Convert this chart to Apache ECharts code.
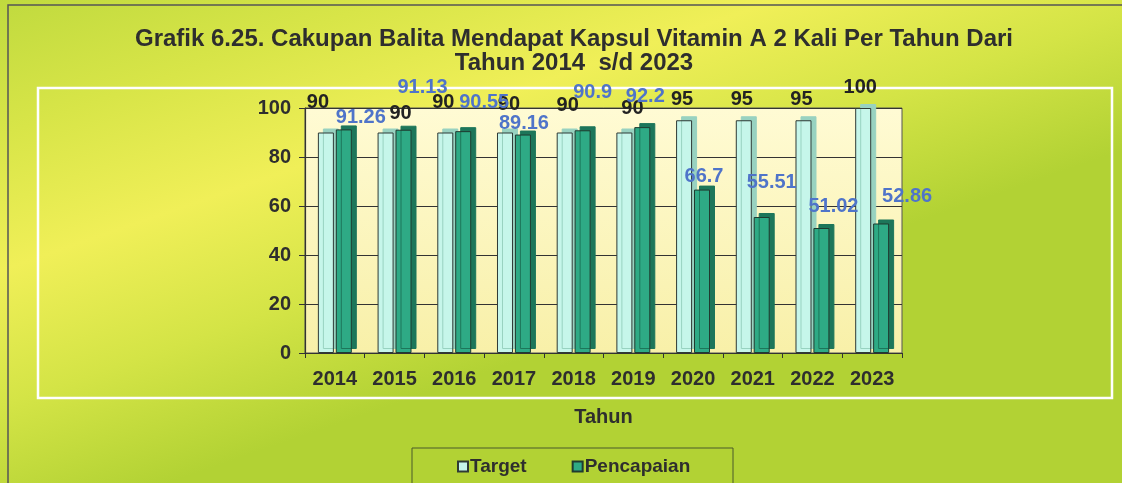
<!DOCTYPE html>
<html><head><meta charset="utf-8">
<script src="https://cdn.jsdelivr.net/npm/echarts@6/dist/echarts.min.js"></script>
<style>html,body{margin:0;padding:0;}#c{width:1122px;height:483px;}</style>
</head><body><div id="c"></div>
<script>
const years = ['2014','2015','2016','2017','2018','2019','2020','2021','2022','2023'];
const target = [90, 90, 90, 90, 90, 90, 95, 95, 95, 100];
const pencapaian = [91.26, 91.13, 90.55, 89.16, 90.9, 92.2, 66.7, 55.51, 51.02, 52.86];
const yTicks = [0, 20, 40, 60, 80, 100];
// label placement nudges (pixels), copying the reference's scattered labels
const targetLabelShift = [[-8,-20],[15,-9],[-2,-20],[4,-18],[3,-17],[8,-14],[-2,-11],[-2,-11],[-2,-11],[-3,-11]];
const pencapLabelShift = [[17,-2],[19,-32],[21,-19],[1,-1],[10,-28],[3,-21],[2,-3],[10,-25],[12,-12],[26,-17]];

const FONT = '"Liberation Sans", Arial, sans-serif';
const chart = echarts.init(document.getElementById('c'));

function mk(vals, shifts) {
  return vals.map((v, i) => ({ value: v, label: { offset: shifts[i] } }));
}

chart.setOption({
  animation: false,
  backgroundColor: {
    type: 'linear', x: 0, y: 0, x2: 0.15, y2: 1,
    colorStops: [
      { offset: 0, color: '#c0da3e' },
      { offset: 0.25, color: '#d8e548' },
      { offset: 0.5, color: '#f0ef58' },
      { offset: 0.75, color: '#d4e446' },
      { offset: 1, color: '#b2d234' }
    ]
  },
  title: {
    text: 'Grafik 6.25. Cakupan Balita Mendapat Kapsul Vitamin A 2 Kali Per Tahun Dari\nTahun 2014  s/d 2023',
    left: 569, top: 22, textAlign: 'center',
    textStyle: { fontFamily: FONT, fontSize: 24, fontWeight: 'bold', color: '#2e2e2e', lineHeight: 24 }
  },
  legend: {
    data: ['Target', 'Pencapaian'],
    left: 457, top: 457, padding: 0,
    itemWidth: 10, itemHeight: 10, itemGap: 45,
    icon: 'rect',
    textStyle: { fontFamily: FONT, fontSize: 19, fontWeight: 'bold', color: '#2e2e2e', padding: [0, 0, 0, -3] }
  },
  grid: {
    left: 305, right: 220, top: 108, bottom: 130,
    show: true,
    backgroundColor: {
      type: 'linear', x: 0, y: 0, x2: 0, y2: 1,
      colorStops: [{ offset: 0, color: '#fffbd4' }, { offset: 1, color: '#f8f0a8' }]
    },
    borderColor: '#555', borderWidth: 1
  },
  xAxis: {
    type: 'category', data: years,
    name: 'Tahun', nameLocation: 'middle', nameGap: 54,
    nameTextStyle: { fontFamily: FONT, fontSize: 20, fontWeight: 'bold', color: '#2e2e2e' },
    axisLine: { lineStyle: { color: '#333', width: 1.2 } },
    axisTick: { show: true, length: 5, lineStyle: { color: '#333' } },
    axisLabel: { fontFamily: FONT, fontSize: 20, fontWeight: 'bold', color: '#2e2e2e', margin: 16 }
  },
  yAxis: {
    type: 'value', min: yTicks[0], max: yTicks[yTicks.length - 1], interval: 20,
    axisLine: { show: true, lineStyle: { color: '#333', width: 1.2 } },
    axisTick: { show: true, length: 6, lineStyle: { color: '#333' } },
    axisLabel: { fontFamily: FONT, fontSize: 20, fontWeight: 'bold', color: '#2e2e2e', margin: 14 },
    splitLine: { lineStyle: { color: '#333', width: 1.2 } }
  },
  series: [
    {
      name: 'Target', type: 'bar', data: mk(target, targetLabelShift),
      barWidth: 16, barGap: '12%',
      itemStyle: {
        color: '#c6f6ea', borderColor: '#2f3a36', borderWidth: 1,
        shadowColor: '#98d2c0', shadowOffsetX: 5, shadowOffsetY: -4, shadowBlur: 0
      },
      label: { show: true, position: 'top', distance: 0,
        fontFamily: FONT, fontSize: 20, fontWeight: 'bold', color: '#222' }
    },
    {
      name: 'Pencapaian', type: 'bar', data: mk(pencapaian, pencapLabelShift),
      barWidth: 16,
      itemStyle: {
        color: '#2eaa85', borderColor: '#1f3b30', borderWidth: 1,
        shadowColor: '#1d765a', shadowOffsetX: 5, shadowOffsetY: -4, shadowBlur: 0
      },
      label: { show: true, position: 'top', distance: 0,
        fontFamily: FONT, fontSize: 20, fontWeight: 'bold', color: '#4f74c9' }
    }
  ],
  graphic: [
    { type: 'rect', shape: { x: 8, y: 5, width: 1130, height: 490 }, silent: true,
      style: { fill: 'none', stroke: '#555', lineWidth: 1.5 }, z: -1 },
    { type: 'rect', shape: { x: 38, y: 88, width: 1074, height: 310 }, silent: true,
      style: { fill: 'none', stroke: '#ffffff', lineWidth: 2.5 }, z: -1 },
    { type: 'rect', shape: { x: 412, y: 448, width: 321, height: 40 }, silent: true,
      style: { fill: 'none', stroke: '#4a5a2a', lineWidth: 1 }, z: -1 }
  ]
});
</script>
</body></html>
